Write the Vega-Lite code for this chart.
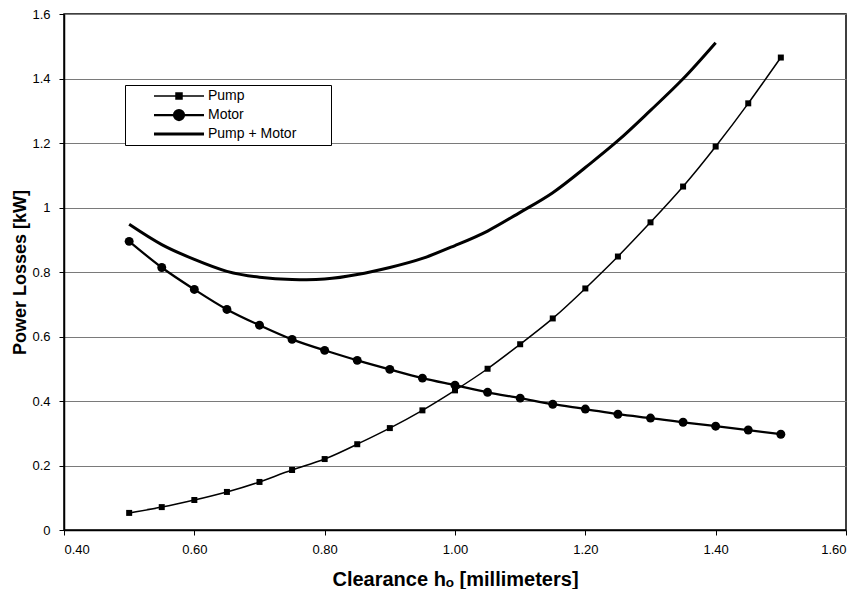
{
  "$schema": "https://vega.github.io/schema/vega-lite/v6.json",
  "width": 782,
  "height": 516,
  "autosize": "none",
  "padding": {"left": 64, "top": 14, "right": 17, "bottom": 59},
  "background": "white",
  "config": {
    "font": "Liberation Sans",
    "view": {"stroke": "black", "strokeWidth": 1.5},
    "axis": {
      "domainColor": "black",
      "domainWidth": 1.5,
      "tickColor": "black",
      "tickSize": 5,
      "labelFont": "Liberation Sans",
      "labelFontSize": 13,
      "labelColor": "black",
      "titleFont": "Liberation Sans",
      "titleFontSize": 18,
      "titleFontWeight": "bold",
      "titleColor": "black"
    }
  },
  "datasets": {
    "curves": [
      {"x": 0.50, "series": "Pump", "y": 0.053},
      {"x": 0.55, "series": "Pump", "y": 0.071},
      {"x": 0.60, "series": "Pump", "y": 0.093},
      {"x": 0.65, "series": "Pump", "y": 0.118},
      {"x": 0.70, "series": "Pump", "y": 0.149},
      {"x": 0.75, "series": "Pump", "y": 0.186},
      {"x": 0.80, "series": "Pump", "y": 0.220},
      {"x": 0.85, "series": "Pump", "y": 0.266},
      {"x": 0.90, "series": "Pump", "y": 0.316},
      {"x": 0.95, "series": "Pump", "y": 0.371},
      {"x": 1.00, "series": "Pump", "y": 0.433},
      {"x": 1.05, "series": "Pump", "y": 0.500},
      {"x": 1.10, "series": "Pump", "y": 0.576},
      {"x": 1.15, "series": "Pump", "y": 0.656},
      {"x": 1.20, "series": "Pump", "y": 0.749},
      {"x": 1.25, "series": "Pump", "y": 0.848},
      {"x": 1.30, "series": "Pump", "y": 0.954},
      {"x": 1.35, "series": "Pump", "y": 1.065},
      {"x": 1.40, "series": "Pump", "y": 1.189},
      {"x": 1.45, "series": "Pump", "y": 1.323},
      {"x": 1.50, "series": "Pump", "y": 1.465},
      {"x": 0.50, "series": "Motor", "y": 0.895},
      {"x": 0.55, "series": "Motor", "y": 0.814},
      {"x": 0.60, "series": "Motor", "y": 0.746},
      {"x": 0.65, "series": "Motor", "y": 0.684},
      {"x": 0.70, "series": "Motor", "y": 0.635},
      {"x": 0.75, "series": "Motor", "y": 0.591},
      {"x": 0.80, "series": "Motor", "y": 0.557},
      {"x": 0.85, "series": "Motor", "y": 0.526},
      {"x": 0.90, "series": "Motor", "y": 0.498},
      {"x": 0.95, "series": "Motor", "y": 0.471},
      {"x": 1.00, "series": "Motor", "y": 0.449},
      {"x": 1.05, "series": "Motor", "y": 0.427},
      {"x": 1.10, "series": "Motor", "y": 0.409},
      {"x": 1.15, "series": "Motor", "y": 0.390},
      {"x": 1.20, "series": "Motor", "y": 0.375},
      {"x": 1.25, "series": "Motor", "y": 0.359},
      {"x": 1.30, "series": "Motor", "y": 0.347},
      {"x": 1.35, "series": "Motor", "y": 0.334},
      {"x": 1.40, "series": "Motor", "y": 0.322},
      {"x": 1.45, "series": "Motor", "y": 0.310},
      {"x": 1.50, "series": "Motor", "y": 0.297},
      {"x": 0.50, "series": "Pump + Motor", "y": 0.948},
      {"x": 0.55, "series": "Pump + Motor", "y": 0.885},
      {"x": 0.60, "series": "Pump + Motor", "y": 0.839},
      {"x": 0.65, "series": "Pump + Motor", "y": 0.802},
      {"x": 0.70, "series": "Pump + Motor", "y": 0.784},
      {"x": 0.75, "series": "Pump + Motor", "y": 0.777},
      {"x": 0.80, "series": "Pump + Motor", "y": 0.778},
      {"x": 0.85, "series": "Pump + Motor", "y": 0.792},
      {"x": 0.90, "series": "Pump + Motor", "y": 0.814},
      {"x": 0.95, "series": "Pump + Motor", "y": 0.842},
      {"x": 1.00, "series": "Pump + Motor", "y": 0.882},
      {"x": 1.05, "series": "Pump + Motor", "y": 0.927},
      {"x": 1.10, "series": "Pump + Motor", "y": 0.985},
      {"x": 1.15, "series": "Pump + Motor", "y": 1.046},
      {"x": 1.20, "series": "Pump + Motor", "y": 1.124},
      {"x": 1.25, "series": "Pump + Motor", "y": 1.207},
      {"x": 1.30, "series": "Pump + Motor", "y": 1.301},
      {"x": 1.35, "series": "Pump + Motor", "y": 1.399},
      {"x": 1.40, "series": "Pump + Motor", "y": 1.511}
    ]
  },
  "data": {"name": "curves"},
  "encoding": {
    "x": {
      "field": "x",
      "type": "quantitative",
      "scale": {"domain": [0.4, 1.6], "nice": false, "zero": false},
      "axis": {
        "values": [0.4, 0.6, 0.8, 1.0, 1.2, 1.4, 1.6],
        "format": ".2f",
        "grid": false,
        "labelPadding": 8,
        "title": "Clearance hₒ [millimeters]",
        "titleFontSize": 20,
        "titleY": 55,
        "titleBaseline": "alphabetic"
      }
    },
    "y": {
      "field": "y",
      "type": "quantitative",
      "scale": {"domain": [0, 1.6], "nice": false},
      "axis": {
        "values": [0, 0.2, 0.4, 0.6, 0.8, 1.0, 1.2, 1.4, 1.6],
        "format": "~g",
        "grid": true,
        "gridColor": "#7a7a7a",
        "gridWidth": 1,
        "labelPadding": 9,
        "title": "Power Losses [kW]",
        "titleX": -39,
        "titleBaseline": "alphabetic"
      }
    }
  },
  "layer": [
    {
      "mark": {"type": "line", "interpolate": "natural"},
      "encoding": {
        "color": {
          "field": "series",
          "type": "nominal",
          "scale": {"domain": ["Pump", "Motor", "Pump + Motor"], "range": ["black", "black", "black"]},
          "legend": {
            "title": null,
            "orient": "none",
            "legendX": 61,
            "legendY": 71,
            "fillColor": "white",
            "strokeColor": "black",
            "padding": 4,
            "rowPadding": 2,
            "symbolSize": 100,
            "symbolOffset": 43,
            "labelOffset": 22,
            "labelFont": "Liberation Sans",
            "labelFontSize": 14,
            "labelColor": "black",
            "labelExpr": "datum.label + '\u2800\u2800\u2800'",
            "encode": {
              "symbols": {
                "update": {
                  "shape": {"signal": "datum.value === 'Pump' ? 'M-5,0H5M-0.6,-0.6H0.6V0.6H-0.6Z' : datum.value === 'Motor' ? 'M-5,0H5M1,0A1,1,0,1,1,-1,0A1,1,0,1,1,1,0Z' : 'M-5,0H5'"},
                  "strokeWidth": {"signal": "datum.value === 'Pump' ? 1.5 : datum.value === 'Motor' ? 3 : 5"},
                  "fill": {"value": "black"},
                  "stroke": {"value": "black"},
                  "opacity": {"value": 1}
                }
              }
            }
          }
        },
        "strokeWidth": {
          "field": "series",
          "type": "nominal",
          "scale": {"domain": ["Pump", "Motor", "Pump + Motor"], "range": [1.5, 3, 5]},
          "legend": null
        }
      }
    },
    {
      "transform": [{"filter": "datum.series === 'Pump'"}],
      "mark": {"type": "point", "shape": "square", "filled": true, "color": "black", "size": 36, "opacity": 1}
    },
    {
      "transform": [{"filter": "datum.series === 'Motor'"}],
      "mark": {"type": "point", "shape": "circle", "filled": true, "color": "black", "size": 80, "opacity": 1}
    }
  ]
}
